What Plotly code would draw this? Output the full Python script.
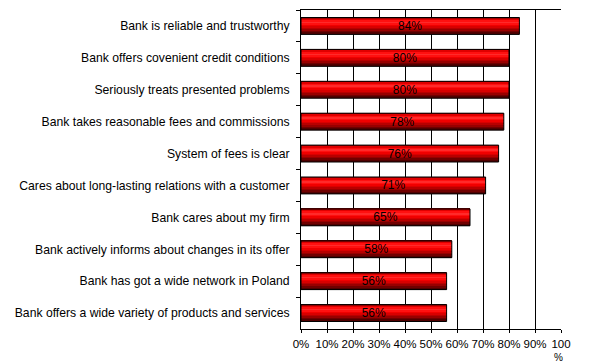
import plotly.graph_objects as go

categories = [
    "Bank is reliable and trustworthy",
    "Bank offers covenient credit conditions",
    "Seriously treats presented problems",
    "Bank takes reasonable fees and commissions",
    "System of fees is clear",
    "Cares about long-lasting relations with a customer",
    "Bank cares about my firm",
    "Bank actively informs about changes in its offer",
    "Bank has got a wide network in Poland",
    "Bank offers a wide variety of products and services",
]
values = [84, 80, 80, 78, 76, 71, 65, 58, 56, 56]
value_labels = ["84%", "80%", "80%", "78%", "76%", "71%", "65%", "58%", "56%", "56%"]
x_tickvals = [0, 10, 20, 30, 40, 50, 60, 70, 80, 90, 100]
x_ticktext = ["0%", "10%", "20%", "30%", "40%", "50%", "60%", "70%", "80%", "90%", "100"]

BAR_W = 0.53
# cylinder shading stripes, top to bottom
stripe_colors = ["#a00000", "#e00000", "#ff1010", "#ff2a2a", "#ff1010", "#f00000",
                 "#d80000", "#b80000", "#980000", "#700000", "#500000"]

fig = go.Figure()
n = len(stripe_colors)
h = BAR_W / n
for i, c in enumerate(stripe_colors):
    fig.add_trace(go.Bar(
        y=categories, x=values, orientation="h",
        width=h * 1.05, offset=-BAR_W / 2 + i * h,
        marker=dict(color=c, line=dict(width=0)),
        hoverinfo="skip", showlegend=False,
    ))

fig.add_trace(go.Bar(
    y=categories, x=values, orientation="h", width=BAR_W,
    marker=dict(color="rgba(0,0,0,0)", line=dict(color="black", width=1)),
    text=value_labels, textposition="inside", insidetextanchor="middle",
    textfont=dict(family="Liberation Sans, Arial", size=12, color="#000000"),
    constraintext="none", showlegend=False,
))

W, H = 598, 354
L, T = 293, 2
PW, PH = 260, 319

fig.add_annotation(
    x=100, y=0, xref="x", yref="paper", yanchor="middle", yshift=-28.5, xshift=-3,
    text="%", showarrow=False, borderpad=0,
    font=dict(family="Liberation Sans, Arial", size=10, color="black"),
)

fig.update_layout(
    width=W, height=H,
    margin=dict(l=L, r=W - L - PW, t=T, b=H - T - PH, autoexpand=False),
    barmode="overlay",
    plot_bgcolor="white", paper_bgcolor="white",
    font=dict(family="Liberation Sans, Arial", size=12, color="black"),
    xaxis=dict(
        range=[0, 100], tickvals=x_tickvals, ticktext=x_ticktext,
        showgrid=True, gridcolor="black", gridwidth=1,
        showline=True, linecolor="black", linewidth=1, mirror=True,
        ticks="outside", ticklen=3, tickcolor="black", ticklabelstandoff=1,
        tickfont=dict(family="Liberation Sans, Arial", size=11.5),
        zeroline=False, fixedrange=True,
    ),
    yaxis=dict(
        categoryorder="array", categoryarray=categories, autorange="reversed",
        showline=True, linecolor="black", linewidth=1,
        ticks="outside", ticklen=4, tickcolor="black", tickson="boundaries",
        ticklabelstandoff=8,
        tickfont=dict(family="Liberation Sans, Arial", size=12.2), showgrid=False, fixedrange=True,
    ),
)

fig.write_html("out.html")
